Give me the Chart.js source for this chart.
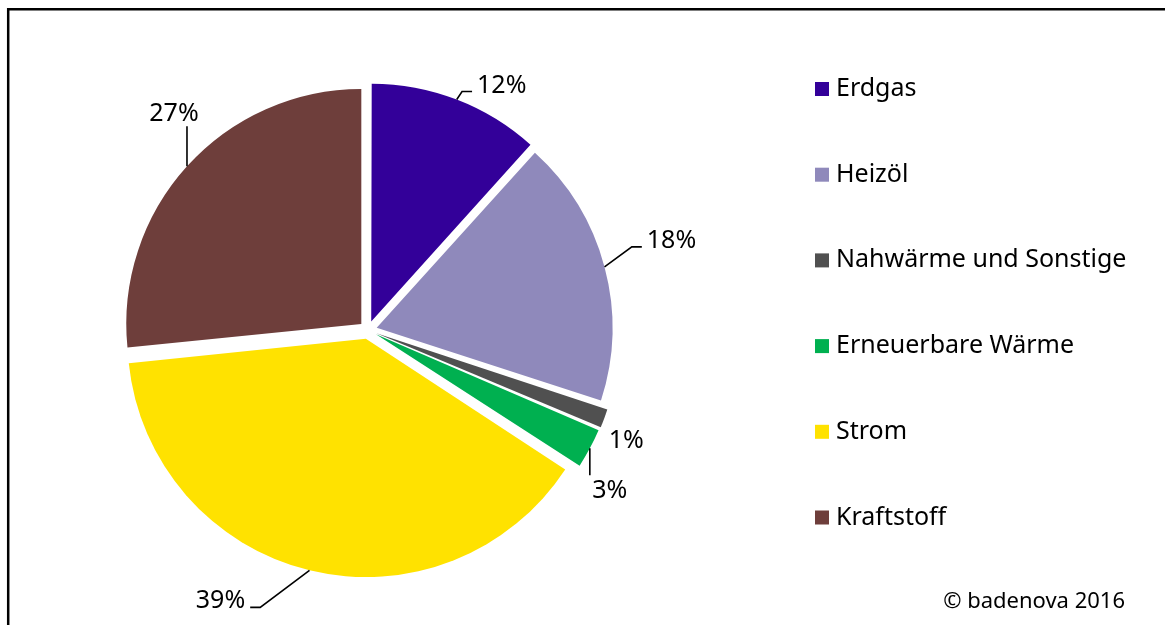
<!DOCTYPE html>
<html lang="de">
<head>
<meta charset="utf-8">
<title>Endenergie nach Energieträgern</title>
<script src="https://cdn.jsdelivr.net/npm/chart.js@4.4.1/dist/chart.umd.min.js"></script>
<style>
    html, body { margin: 0; padding: 0; background: #fff; }
    #wrap { position: relative; width: 1165px; height: 625px; }
</style>
</head>
<body>
<div id="wrap"><canvas id="chart-energie" width="1165" height="625"></canvas></div>
<script>
// --- Daten ---
const categories = ['Erdgas', 'Heizöl', 'Nahwärme und Sonstige', 'Erneuerbare Wärme', 'Strom', 'Kraftstoff'];
const shares = [11.7, 18.3, 1.4, 2.8, 39.2, 26.6];
const sliceColors = ['#330099', '#8F89BB', '#505050', '#00B050', '#FFE200', '#6E3E3B'];
const sourceNote = '© badenova 2016';

// Lage der Prozent-Beschriftungen relativ zum Segmentrand (dx, dy in px)
const labelShift = [[45, -16], [67, -28], [22, 21], [20, 41], [-89, 29], [-13, -54]];

const FONT = '"Noto Sans", "Open Sans", sans-serif';

// Rahmen oben/links wie im Original
const framePlugin = {
    id: 'frame',
    beforeDraw(chart) {
        const ctx = chart.ctx;
        ctx.save();
        ctx.strokeStyle = '#000';
        ctx.lineWidth = 2.5;
        ctx.beginPath();
        ctx.moveTo(8.2, chart.height);
        ctx.lineTo(8.2, 9.2);
        ctx.lineTo(chart.width, 9.2);
        ctx.stroke();
        ctx.restore();
    }
};

// Prozentwerte mit Führungslinien
const pctLabelPlugin = {
    id: 'pctLabels',
    afterDatasetsDraw(chart) {
        const ctx = chart.ctx;
        const meta = chart.getDatasetMeta(0);
        const values = chart.data.datasets[0].data;
        const total = values.reduce((a, b) => a + b, 0);
        const size = 25;

        ctx.save();
        ctx.font = `${size}px ${FONT}`;
        ctx.fillStyle = '#000';
        ctx.strokeStyle = '#000';
        ctx.lineWidth = 1.6;
        ctx.textAlign = 'center';
        ctx.textBaseline = 'alphabetic';

        meta.data.forEach((arc, i) => {
            const p = arc.getProps(['x', 'y', 'startAngle', 'endAngle', 'outerRadius', 'circumference'], true);
            const off = (arc.options.offset || 0) / 4;
            const fix = 1 - Math.sin(Math.min(Math.PI, p.circumference));
            const mid = (p.startAngle + p.endAngle) / 2;
            const r = p.outerRadius + off + off * fix;
            const ex = p.x + Math.cos(mid) * r;
            const ey = p.y + Math.sin(mid) * r;

            const text = Math.round(values[i] / total * 100) + '%';
            const [dx, dy] = labelShift[i];
            const cx = ex + dx, cy = ey + dy;
            const w = ctx.measureText(text).width;
            const h = 22;
            const box = { l: cx - w / 2, r: cx + w / 2, t: cy - h / 2, b: cy + h / 2 };

            ctx.fillText(text, cx, cy + size * 0.36);

            const gx = Math.max(box.l - ex, 0, ex - box.r);
            const gy = Math.max(box.t - ey, 0, ey - box.b);
            if (Math.hypot(gx, gy) < 14) return;

            ctx.beginPath();
            ctx.moveTo(ex, ey);
            if (Math.abs(dx) > Math.abs(dy)) {
                const ax = dx > 0 ? box.l - 5 : box.r + 5;
                const ay = cy + 8;
                const bx = dx > 0 ? ax - 10 : ax + 10;
                ctx.lineTo(bx, ay);
                ctx.lineTo(ax, ay);
            } else {
                ctx.lineTo(ex, dy < 0 ? box.b + 3 : box.t - 3);
            }
            ctx.stroke();
        });
        ctx.restore();
    }
};

// Legende rechts + Quelle
const legendPlugin = {
    id: 'sideLegend',
    afterDraw(chart) {
        const ctx = chart.ctx;
        const ds = chart.data.datasets[0];
        const x0 = 815, y0 = 89, step = 85.7, box = 14;
        ctx.save();
        ctx.font = `25px ${FONT}`;
        ctx.textAlign = 'left';
        ctx.textBaseline = 'alphabetic';
        chart.data.labels.forEach((label, i) => {
            const y = y0 + i * step;
            ctx.fillStyle = ds.backgroundColor[i];
            ctx.fillRect(x0, y - box / 2, box, box);
            ctx.fillStyle = '#000';
            ctx.fillText(label, x0 + 21, y + 7);
        });
        ctx.font = `22px ${FONT}`;
        ctx.textAlign = 'right';
        ctx.fillText(sourceNote, 1125, 608);
        ctx.restore();
    }
};

new Chart(document.getElementById('chart-energie').getContext('2d'), {
    type: 'pie',
    data: {
        labels: categories,
        datasets: [{
            data: shares,
            backgroundColor: sliceColors,
            borderWidth: 0,
            offset: 36,
            hoverOffset: 0
        }]
    },
    options: {
        responsive: false,
        animation: false,
        radius: 235,
        layout: { padding: { left: 118, right: 547, top: 80, bottom: 45 } },
        plugins: {
            legend: { display: false },
            tooltip: { enabled: false }
        }
    },
    plugins: [framePlugin, pctLabelPlugin, legendPlugin]
});
</script>
</body>
</html>
